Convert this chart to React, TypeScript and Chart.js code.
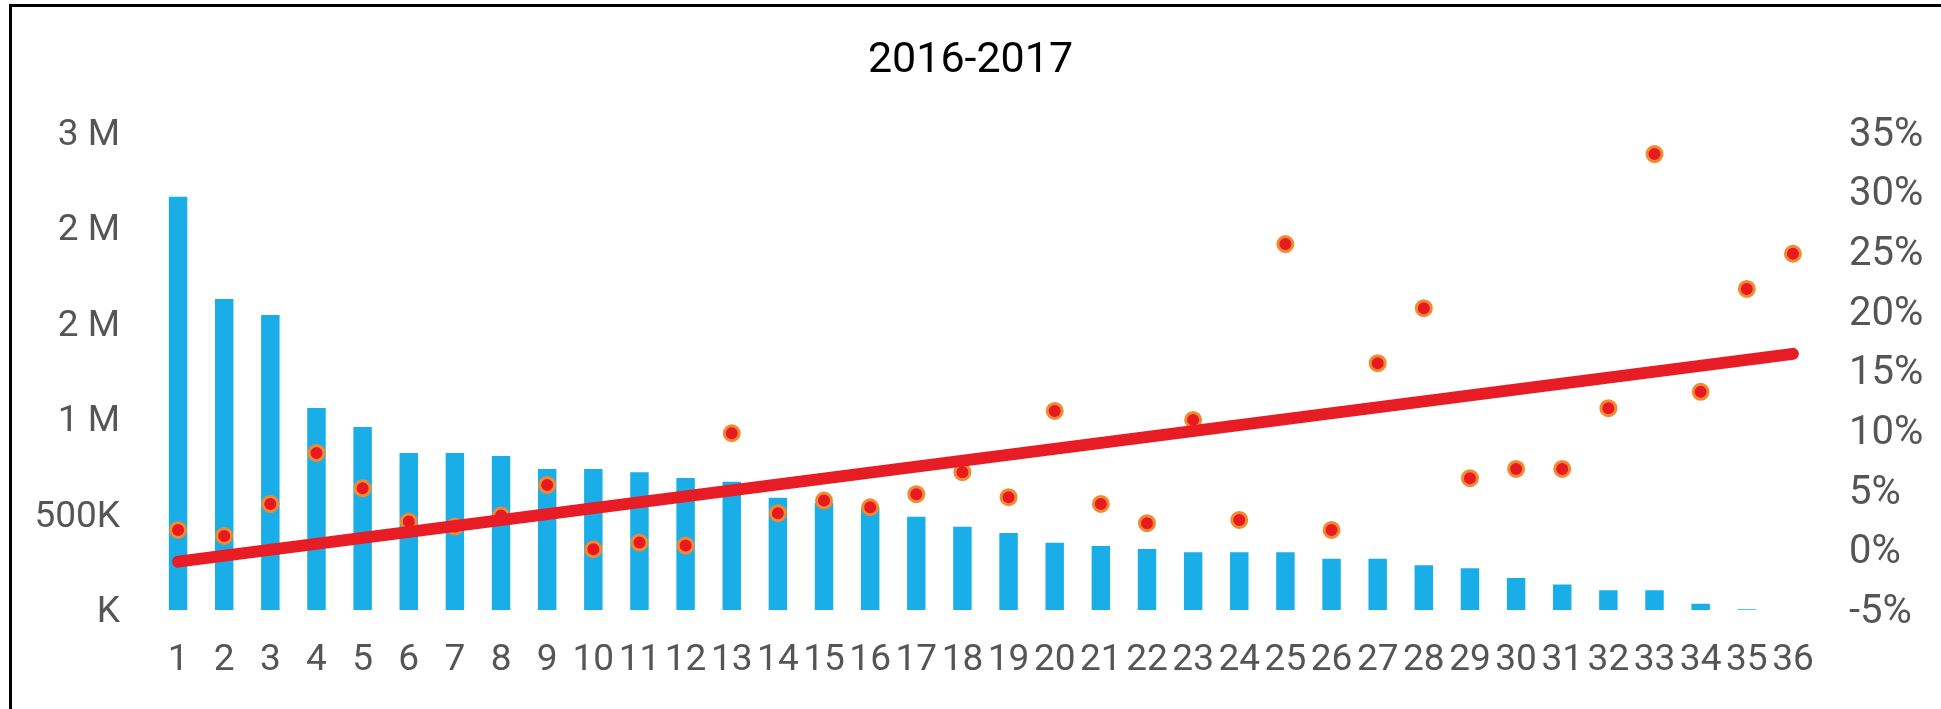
import React, { useEffect, useRef } from "react";
import { Chart, registerables } from "chart.js";

Chart.register(...registerables);

const categories = [
  "1", "2", "3", "4", "5", "6", "7", "8", "9", "10", "11", "12",
  "13", "14", "15", "16", "17", "18", "19", "20", "21", "22", "23", "24",
  "25", "26", "27", "28", "29", "30", "31", "32", "33", "34", "35", "36",
];

const salesValues = [
  2164000, 1628000, 1545000, 1058000, 958000, 822000, 822000, 806000, 738000,
  738000, 722000, 691000, 672000, 588000, 560000, 539000, 488000, 436000,
  403000, 352000, 335000, 319000, 302000, 302000, 302000, 269000, 269000,
  234000, 218000, 168000, 134000, 103000, 103000, 33000, 4000, 0,
];

const growthPct = [
  1.71, 1.21, 3.89, 8.16, 5.2, 2.41, 1.99, 2.91, 5.48, 0.09, 0.65, 0.4,
  9.81, 3.11, 4.17, 3.61, 4.7, 6.55, 4.45, 11.68, 3.89, 2.27, 10.93, 2.55,
  25.66, 1.71, 15.68, 20.29, 6.04, 6.82, 6.82, 11.91, 33.2, 13.28, 21.9, 24.85,
];

const trendStart = -0.95;
const trendEnd = 16.46;

const leftTickLabels = ["K", "500K", "1 M", "2 M", "2 M", "3 M"];
const leftStep = 500000;
const leftMax = 2500000;
const rightMin = -5;
const rightMax = 35;
const rightStep = 5;

const titleText = "2016-2017";

const W = 1941;
const H = 709;

export default function App() {
  const ref = useRef<HTMLCanvasElement | null>(null);

  useEffect(() => {
    document.body.style.margin = "0";
    document.body.style.overflow = "hidden";
    const canvas = ref.current;
    if (!canvas) return;
    const last = categories.length - 1;
    const trendData = categories.map((_, i) =>
      i === 0 ? trendStart : i === last ? trendEnd : null
    );
    const tickFont = { family: "Roboto", size: 37 };
    const chart = new Chart(canvas, {
      type: "bar",
      data: {
        labels: categories,
        datasets: [
          {
            type: "line",
            label: "Trend",
            data: trendData as any,
            yAxisID: "y1",
            borderColor: "#E81C24",
            borderWidth: 12,
            borderCapStyle: "round",
            pointRadius: 0,
            spanGaps: true,
            fill: false,
            order: 0,
          } as any,
          {
            type: "line",
            label: "Growth",
            data: growthPct,
            yAxisID: "y1",
            showLine: false,
            pointRadius: 7.5,
            pointBorderWidth: 3,
            pointBackgroundColor: "#E81A1F",
            pointBorderColor: "#F08A33",
            order: 1,
          } as any,
          {
            type: "bar",
            label: "Sales",
            data: salesValues,
            yAxisID: "y",
            backgroundColor: "#1AAEE8",
            barPercentage: 0.8,
            categoryPercentage: 0.5,
            order: 2,
          },
        ],
      },
      options: {
        responsive: false,
        animation: false,
        devicePixelRatio: 1,
        layout: { padding: 0 },
        plugins: {
          legend: { display: false },
          tooltip: { enabled: false },
          title: {
            display: true,
            text: titleText,
            color: "#000000",
            font: { family: "Roboto", size: 43, weight: "normal" },
            padding: { top: 35, bottom: 46 },
          },
        },
        scales: {
          x: {
            grid: { display: false, drawTicks: false },
            border: { display: false },
            ticks: {
              color: "#555555",
              font: tickFont,
              autoSkip: false,
              maxRotation: 0,
              minRotation: 0,
              padding: 29,
            },
            afterFit: (s: any) => {
              s.height = 99;
            },
          },
          y: {
            position: "left",
            min: 0,
            max: leftMax,
            grid: { display: false, drawTicks: false },
            border: { display: false },
            ticks: {
              stepSize: leftStep,
              color: "#555555",
              font: tickFont,
              padding: 35,
              labelOffset: 3,
              callback: (v: any) => leftTickLabels[Math.round(Number(v) / leftStep)] ?? "",
            },
            afterFit: (s: any) => {
              s.width = 155;
            },
          },
          y1: {
            position: "right",
            min: rightMin,
            max: rightMax,
            grid: { display: false, drawTicks: false },
            border: { display: false },
            ticks: {
              stepSize: rightStep,
              color: "#555555",
              font: { family: "Roboto", size: 40 },
              padding: 33,
              labelOffset: 3,
              callback: (v: any) => `${v}%`,
            },
            afterFit: (s: any) => {
              s.width = 125;
            },
          },
        },
      },
    });
    return () => chart.destroy();
  }, []);

  return (
    <div
      style={{
        position: "fixed",
        left: 0,
        top: 0,
        width: W,
        height: H,
        background: "#ffffff",
        overflow: "hidden",
      }}
    >
      <div
        style={{
          position: "absolute",
          left: 9,
          top: 4,
          width: W,
          height: H + 20,
          borderTop: "3px solid #000",
          borderLeft: "3px solid #000",
          boxSizing: "border-box",
        }}
      />
      <canvas
        ref={ref}
        width={W}
        height={H}
        style={{ position: "absolute", left: 0, top: 0, width: W, height: H }}
      />
    </div>
  );
}
